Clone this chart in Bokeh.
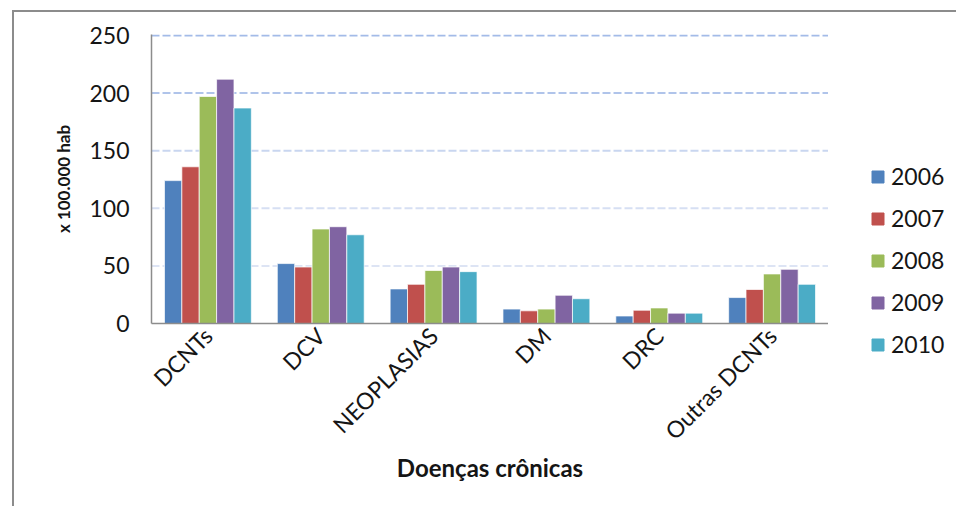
import math
from bokeh.plotting import figure
from bokeh.layouts import row, column
from bokeh.models import ColumnDataSource, Legend, LegendItem, Span, FixedTicker
from bokeh.transform import dodge
from bokeh.embed import file_html
from bokeh.resources import INLINE

# Chronic disease rates per 100.000 inhabitants, by year
categories = ["DCNTs", "DCV", "NEOPLASIAS", "DM", "DRC", "Outras DCNTs"]
years = ["2006", "2007", "2008", "2009", "2010"]
v2006 = [124, 52, 30, 12.5, 6.5, 22.5]
v2007 = [136, 49, 34, 11, 11.5, 29.5]
v2008 = [197, 82, 46, 12.5, 13.5, 43]
v2009 = [212, 84, 49, 24.5, 9, 47]
v2010 = [187, 77, 45, 21.5, 9, 34]
y_ticks = [0, 50, 100, 150, 200, 250]

series = [v2006, v2007, v2008, v2009, v2010]
colors = ["#4F81BD", "#C0504D", "#9BBB59", "#8064A2", "#4BACC6"]
grid_colors = {50: "#dde4f4", 100: "#d6dff3", 150: "#c9d6f0", 200: "#b0c4ea", 250: "#a3bbe8"}

FONT = "Lato"
TEXT = "#151515"
FRAME_BORDER = "2px solid #8c8c8c"

data = {"cat": categories}
for y, vals in zip(years, series):
    data[y] = vals
source = ColumnDataSource(data)

# main chart
p = figure(
    x_range=categories, y_range=(0, 250.8),
    width=816, height=496,
    output_backend="svg", toolbar_location=None,
    min_border_left=137, min_border_right=2,
    min_border_top=22, min_border_bottom=185,
    styles={"border-left": FRAME_BORDER, "border-top": FRAME_BORDER},
)
p.outline_line_color = None
p.background_fill_color = "white"
p.border_fill_color = "white"
p.xgrid.grid_line_color = None
p.ygrid.grid_line_color = None
p.x_range.range_padding = 0

# dashed horizontal gridlines, fading toward the baseline
for t in y_ticks[1:]:
    p.add_layout(Span(location=t, dimension="width", line_color=grid_colors[t],
                      line_width=2, line_dash="8 3", level="underlay"))

bar_w = 0.154
offsets = [-2 * bar_w, -bar_w, 0, bar_w, 2 * bar_w]
for y, c, off in zip(years, colors, offsets):
    p.vbar(x=dodge("cat", off, range=p.x_range), top=y, width=bar_w, source=source,
           fill_color=c, line_color="white", line_alpha=0.7, line_width=1)

p.yaxis.ticker = FixedTicker(ticks=y_ticks)
p.yaxis.axis_label = "x 100.000 hab"
p.yaxis.axis_label_text_font = FONT
p.yaxis.axis_label_text_font_style = "bold"
p.yaxis.axis_label_text_font_size = "17px"
p.yaxis.axis_label_text_color = TEXT
p.yaxis.axis_label_standoff = 12
p.yaxis.major_label_text_font = FONT
p.yaxis.major_label_text_font_size = "23px"
p.yaxis.major_label_text_color = TEXT
p.yaxis.major_label_standoff = 22
p.yaxis.major_tick_out = 0
p.yaxis.major_tick_in = 0
p.yaxis.minor_tick_line_color = None
p.yaxis.axis_line_color = "#8c8c8c"
p.yaxis.axis_line_width = 1.5

p.xaxis.axis_label = "Doenças crônicas"
p.xaxis.axis_label_text_font = FONT
p.xaxis.axis_label_text_font_style = "bold"
p.xaxis.axis_label_text_font_size = "24px"
p.xaxis.axis_label_text_color = TEXT
p.xaxis.axis_label_standoff = -5
p.xaxis.major_label_orientation = math.pi / 4
p.xaxis.major_label_text_font = FONT
p.xaxis.major_label_text_font_size = "23px"
p.xaxis.major_label_text_color = TEXT
p.xaxis.major_label_standoff = 8
p.xaxis.major_tick_out = 0
p.xaxis.major_tick_in = 0
p.xaxis.axis_line_color = "#8c8c8c"
p.xaxis.axis_line_width = 1.5

# legend panel to the right of the chart
leg = figure(
    x_range=categories, y_range=(0, 250),
    width=128, height=496,
    output_backend="svg", toolbar_location=None,
    x_axis_type=None, y_axis_type=None,
    min_border=0,
    styles={"border-top": FRAME_BORDER},
)
leg.outline_line_color = None
leg.grid.visible = False
leg.border_fill_color = "white"
leg.background_fill_color = "white"

items = []
for y, c, off in zip(years, colors, offsets):
    r = leg.vbar(x=dodge("cat", off, range=leg.x_range), top=y, width=bar_w, source=source,
                 fill_color=c, line_color=c, visible=False)
    items.append(LegendItem(label=y, renderers=[r]))

legend = Legend(items=items, location=(42, 150))
legend.border_line_color = None
legend.background_fill_alpha = 0
legend.inactive_fill_alpha = 0
legend.padding = 0
legend.margin = 0
legend.glyph_width = 15
legend.glyph_height = 15
legend.label_height = 20
legend.spacing = 14
legend.label_standoff = 6
legend.label_text_font = FONT
legend.label_text_font_size = "23px"
legend.label_text_color = TEXT
leg.add_layout(legend, "center")

layout = row(p, column(leg), margin=(10, 0, 0, 12), spacing=0)

open("out.html", "w").write(file_html(layout, INLINE))
